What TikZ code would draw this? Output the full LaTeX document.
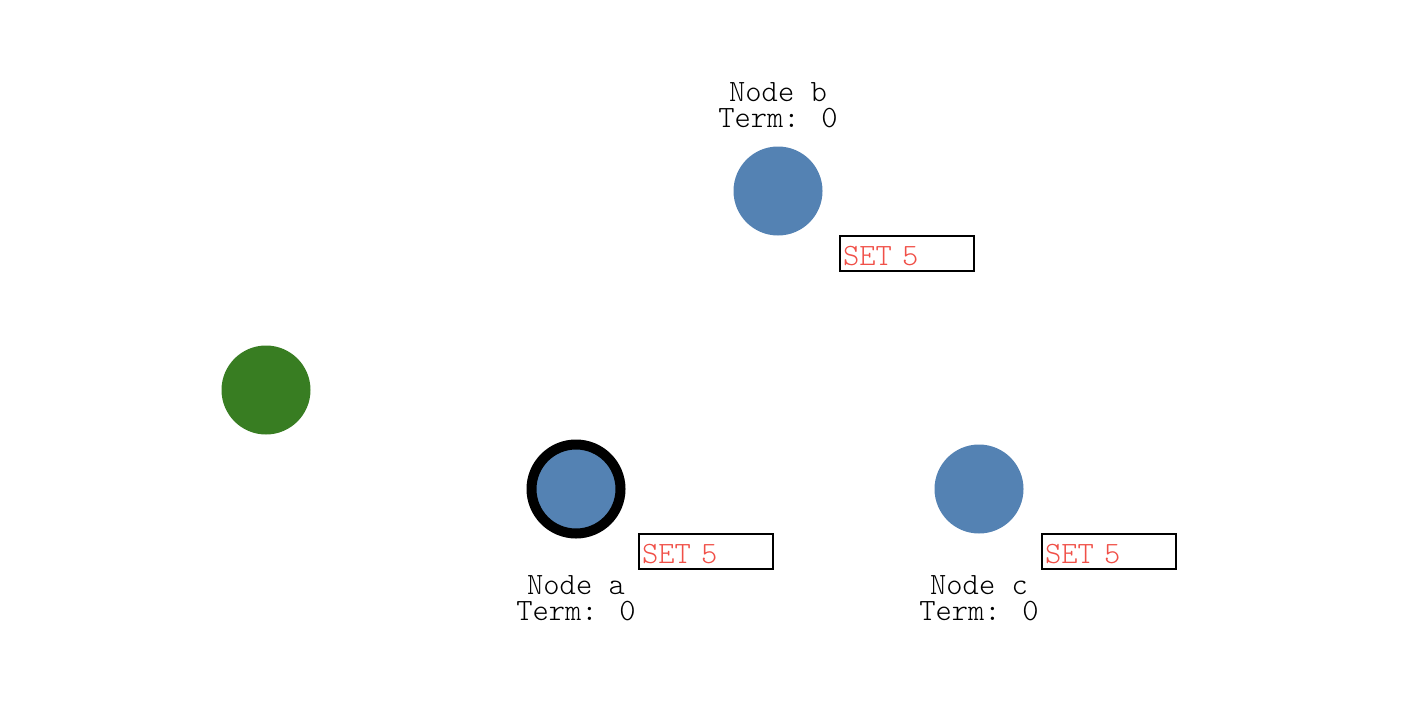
\documentclass[tikz,border=0pt]{standalone}
\usepackage{fontspec}
\newfontfamily\lightmono{Latin Modern Mono Light}
\usepackage{xcolor}
\usetikzlibrary{positioning}
\definecolor{peerblue}{RGB}{84,130,179}
\definecolor{clientgreen}{RGB}{56,125,34}
\definecolor{msgred}{RGB}{240,80,72}

\begin{document}
\begin{tikzpicture}[x=1pt,y=-1pt,
  peer/.style={circle,fill=peerblue,minimum size=89pt,inner sep=0pt},
  leader/.style={peer,draw=black,line width=10pt},
  client/.style={circle,fill=clientgreen,minimum size=89pt,inner sep=0pt},
  tag/.style={font=\lightmono\fontsize{31}{26}\selectfont,align=center,inner sep=0pt},
  msgbox/.style={draw,line width=2pt,minimum width=134pt,minimum height=35pt,inner sep=0pt,
    text width=128pt,text height=23pt,text depth=0pt,align=left,
    font=\lightmono\fontsize{31}{26}\selectfont,text=msgred}]
\useasboundingbox (0,0) rectangle (1404,704);
\node[client] (cl) at (266,390) {};
\node[peer] (b) at (778,191) {};
\node[leader] (a) at (576,489) {};
\node[peer] (c) at (979,489) {};
\node[tag,anchor=base] (tb) at (778,127) {Node b\\Term: 0};
\node[tag,anchor=base] (ta) at (576,620) {Node a\\Term: 0};
\node[tag,anchor=base] (tc) at (979,620) {Node c\\Term: 0};
\node[msgbox] (mb) at (907,253.5) {SET 5};
\node[msgbox] (ma) at (706,551.5) {SET 5};
\node[msgbox] (mc) at (1109,551.5) {SET 5};
\end{tikzpicture}
\end{document}
